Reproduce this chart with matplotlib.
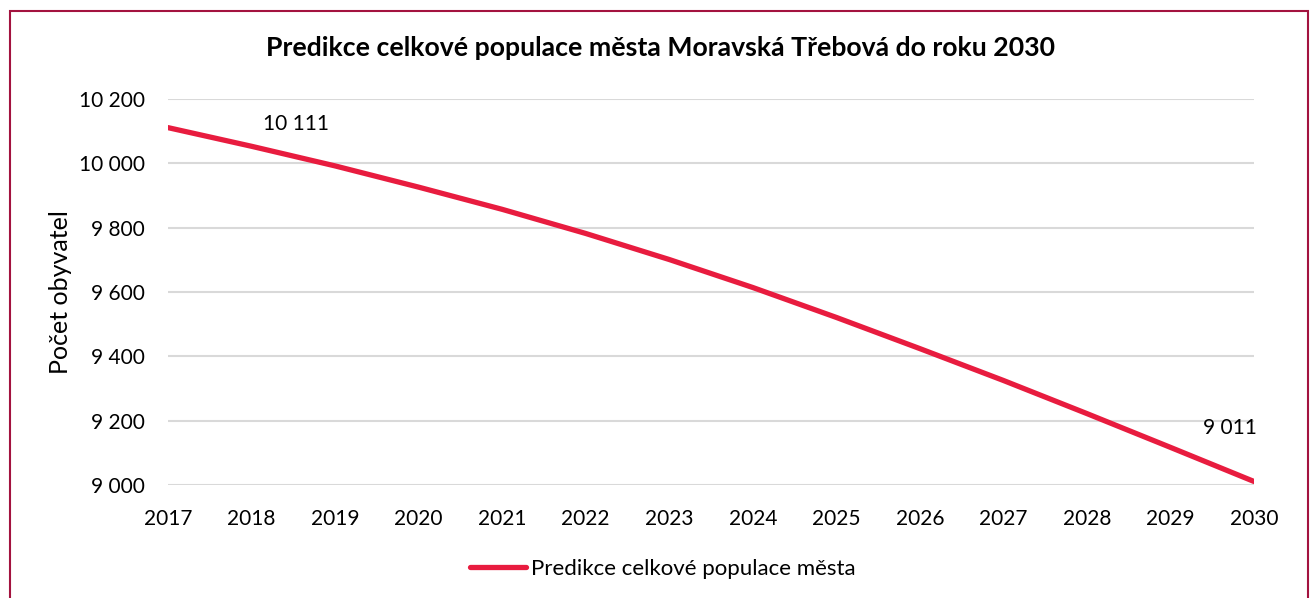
import matplotlib.pyplot as plt
from matplotlib.patches import Rectangle

years = [2017, 2018, 2019, 2020, 2021, 2022, 2023, 2024, 2025, 2026, 2027, 2028, 2029, 2030]
population = [10111, 10053, 9992, 9926, 9857, 9782, 9701, 9614, 9521, 9424, 9325, 9222, 9117, 9011]
y_ticks = [9000, 9200, 9400, 9600, 9800, 10000, 10200]
series_name = "Predikce celkové populace města"

plt.rcParams['font.family'] = ['Lato', 'DejaVu Sans']

fig = plt.figure(figsize=(13.12, 5.98), dpi=100)
ax = fig.add_axes([168 / 1312, 1 - 485 / 598, (1254 - 168) / 1312, (485 - 99) / 598])

line_color = '#E81C3F'
ax.plot(years, population, color=line_color, linewidth=3.8, solid_capstyle='round',
        label=series_name)

ax.set_xlim(2017, 2030)
ax.set_ylim(9000, 10200)
ax.set_xticks(years)
ax.set_yticks(y_ticks)
ax.set_yticklabels(['{:,}'.format(v).replace(',', ' ') for v in y_ticks])
ax.tick_params(axis='both', length=0, labelsize=15, labelcolor='black')
ax.tick_params(axis='y', pad=16.5)
ax.tick_params(axis='x', pad=17)
ax.grid(axis='y', color='#d9d9d9', linewidth=1.5)
ax.set_axisbelow(True)
for s in ax.spines.values():
    s.set_visible(False)

# data labels at first and last point
ax.annotate('10 111', (years[0], population[0]), xytext=(128, 4), textcoords='offset pixels',
            ha='center', va='center', fontsize=15)
ax.annotate('9 011', (years[-1], population[-1]), xytext=(-24, 53), textcoords='offset pixels',
            ha='center', va='center', fontsize=15)

fig.text(61 / 1312, 1 - 292 / 598, 'Počet obyvatel', rotation=90,
         ha='center', va='center', fontsize=18)

fig.text(660 / 1312, 1 - 48 / 598,
         'Predikce celkové populace města Moravská Třebová do roku 2030',
         ha='center', va='center', fontsize=19.2, fontweight='bold')

fig.legend(loc='center', bbox_to_anchor=(663 / 1312, 1 - 569 / 598), frameon=False,
           fontsize=16, handlelength=2.5, handletextpad=0.25)

fig.patches.append(Rectangle((10 / 1312, -0.05), 1298 / 1312, 1.05 - 11 / 598,
                             transform=fig.transFigure, fill=False,
                             edgecolor='#a3133f', linewidth=1.5))

fig.savefig('out.png', dpi=100)
